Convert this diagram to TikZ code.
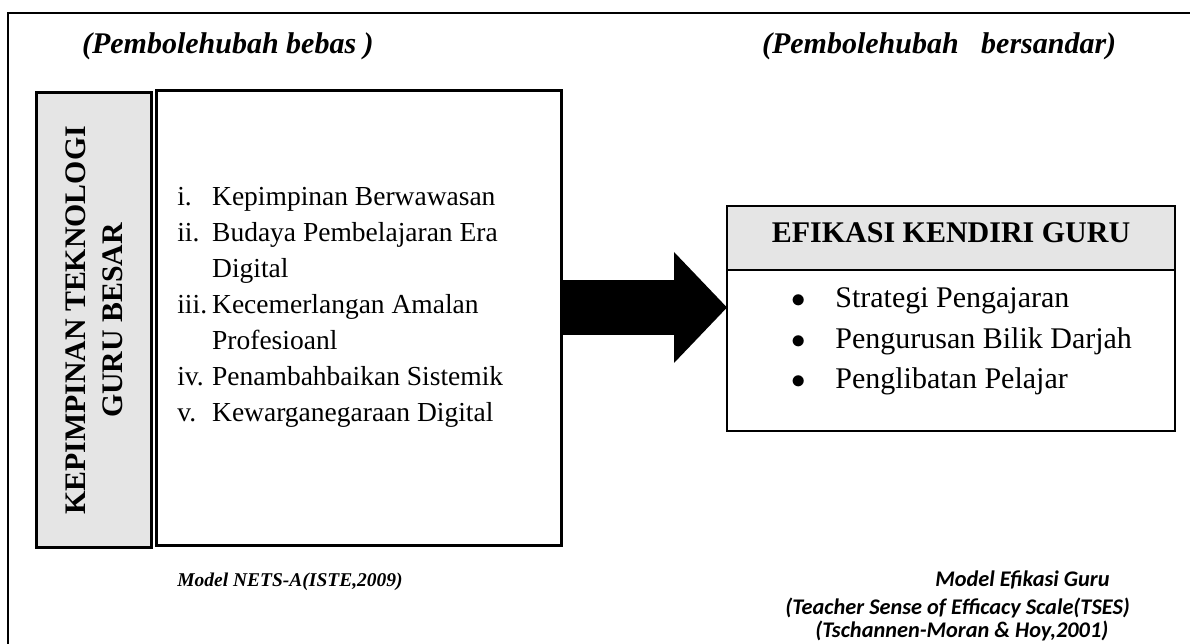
\documentclass[tikz,border=0pt]{standalone}
\usepackage{fontspec}
\setmainfont{Liberation Serif}
\newfontfamily\calibrifont{Carlito}
\usetikzlibrary{arrows.meta,positioning,calc}

\begin{document}
\begin{tikzpicture}[
  x=0.6pt, y=0.6pt,
  box/.style={
    draw,
    line width=1.8pt,
    outer sep=0pt,
    inner sep=0pt
  },
  greybox/.style={box, fill=gray!20},
  title/.style={
    anchor=base west,
    inner sep=0pt,
    font=\fontsize{18}{21}\selectfont\bfseries\itshape
  },
  listtext/.style={anchor=base west, inner sep=0pt},
  source/.style={anchor=base west, inner sep=0pt, font=\fontsize{11.7}{14}\selectfont\bfseries\itshape},
  calsource/.style={anchor=base west, inner sep=0pt, font=\fontsize{13.4}{16}\selectfont\calibrifont\bfseries\itshape},
  bigarrow/.style={line width=33pt, -{Triangle[length=31.8pt, width=66.6pt, line width=0pt]}}
]

\useasboundingbox (0,0) rectangle (1190,644);
\draw[line width=1.2pt] (1190,631.3) -| (8.3,0);

\node[title] (free) at (81.7,590.7) {(Pembolehubah bebas )};
\node[title] (dep) at (761.7,590.7) {(Pembolehubah~~~bersandar)};

\node[greybox, minimum width=69pt, minimum height=273pt] (lead) at (94.2,323.5) {};
\node[rotate=90, align=center, font=\fontsize{17.9}{22.2}\selectfont\bfseries] (leadtext) at (lead.center)
{KEPIMPINAN TEKNOLOGI\\GURU BESAR};

\node[box, minimum width=243pt, minimum height=273pt, right=3pt of lead, yshift=1.5pt] (dims) {};

\node[listtext, font=\fontsize{16.5}{21.6}\selectfont] (dimlist) at (177,438.5)
{\begin{tabular}[t]{@{}l@{}l@{}}
\makebox[20.9pt][l]{i.} & Kepimpinan Berwawasan\\
\makebox[20.9pt][l]{ii.} & Budaya Pembelajaran Era\\
 & Digital\\
\makebox[20.9pt][l]{iii.} & Kecemerlangan Amalan\\
 & Profesioanl\\
\makebox[20.9pt][l]{iv.} & Penambahbaikan Sistemik\\
\makebox[20.9pt][l]{v.} & Kewarganegaraan Digital
\end{tabular}};

\node[greybox, line width=1.5pt, minimum width=268.8pt, minimum height=38.4pt, text depth=6pt,
  font=\fontsize{18}{21}\selectfont\bfseries] (effhead) at (951,406) {EFIKASI KENDIRI GURU};

\node[box, line width=1.5pt, minimum width=268.8pt, minimum height=96.6pt, below=0pt of effhead] (effbody) {};

\node[listtext, font=\fontsize{18}{24.3}\selectfont] (efflist) at (791,336)
{\begin{tabular}[t]{@{}l@{}l@{}}
\makebox[26.4pt][l]{$\bullet$} & Strategi Pengajaran\\
\makebox[26.4pt][l]{$\bullet$} & Pengurusan Bilik Darjah\\
\makebox[26.4pt][l]{$\bullet$} & Penglibatan Pelajar
\end{tabular}};

\draw[bigarrow] ($(dims.east)+(0,10.5)$) -- ($(dims.east -| effbody.west)+(0,10.5)$);

\node[source] (nets) at (177,57) {Model NETS-A(ISTE,2009)};

\node[calsource] (effmodel) at (935,57) {Model Efikasi Guru};
\node[calsource] (tses) at (785,29) {(Teacher Sense of Efficacy Scale(TSES)};
\node[calsource] (tsesref) at (815,6) {(Tschannen-Moran \& Hoy,2001)};

\end{tikzpicture}
\end{document}
